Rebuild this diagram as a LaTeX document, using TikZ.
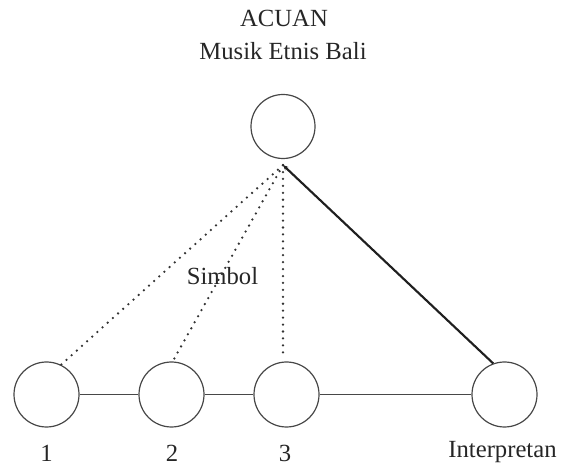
\documentclass[tikz,border=0pt]{standalone}
\usepackage{fontspec}
\setmainfont{Liberation Serif}
\usetikzlibrary{arrows.meta}
\begin{document}
\begin{tikzpicture}[x=0.75pt,y=-0.75pt,
  ring/.style={circle,draw=black!72,line width=0.9pt,minimum size=48.75pt,inner sep=0pt},
  lbl/.style={anchor=base,font=\fontsize{18.5}{20}\selectfont,text=black!85,inner sep=0pt},
  dotline/.style={line width=1.9pt,line cap=round,dash pattern=on 0pt off 5.2pt,draw=black!80},
  link/.style={line width=0.8pt,draw=black!72},
  boldlink/.style={line width=1.6pt,draw=black!88}]
\useasboundingbox (0,0) rectangle (568,466);
% circles
\node[ring,minimum size=48pt] (top) at (283,126.5) {};
\node[ring] (c1) at (46.5,394.5) {};
\node[ring] (c2) at (171.5,394.5) {};
\node[ring] (c3) at (286.5,394.5) {};
\node[ring] (c4) at (504.5,394.5) {};
\coordinate (apex) at ([yshift=-4.5pt]top.south);
% texts
\node[lbl] (acuan) at (284,27) {ACUAN};
\node[lbl] (musik) at (283,60) {Musik Etnis Bali};
\node[lbl] (simbol) at (222.5,285) {Simbol};
\node[lbl] (l1) at (46.5,462) {1};
\node[lbl] (l2) at (172,462) {2};
\node[lbl] (l3) at (285,462) {3};
\node[lbl] (interp) at (502.5,458) {Interpretan};
% connectors
\draw[link] (c1) -- (c2);
\draw[link] (c2) -- (c3);
\draw[link] (c3) -- (c4);
\draw[dotline] (apex) -- (c1.64);
\draw[dotline] (apex) -- (c2.88);
\draw[dotline, shorten >=5pt] (apex) -- (c3.north -| apex);
\draw[boldlink, {Stealth[length=4pt,width=3.5pt]}-] (apex) -- (c4.110);
\end{tikzpicture}
\end{document}
